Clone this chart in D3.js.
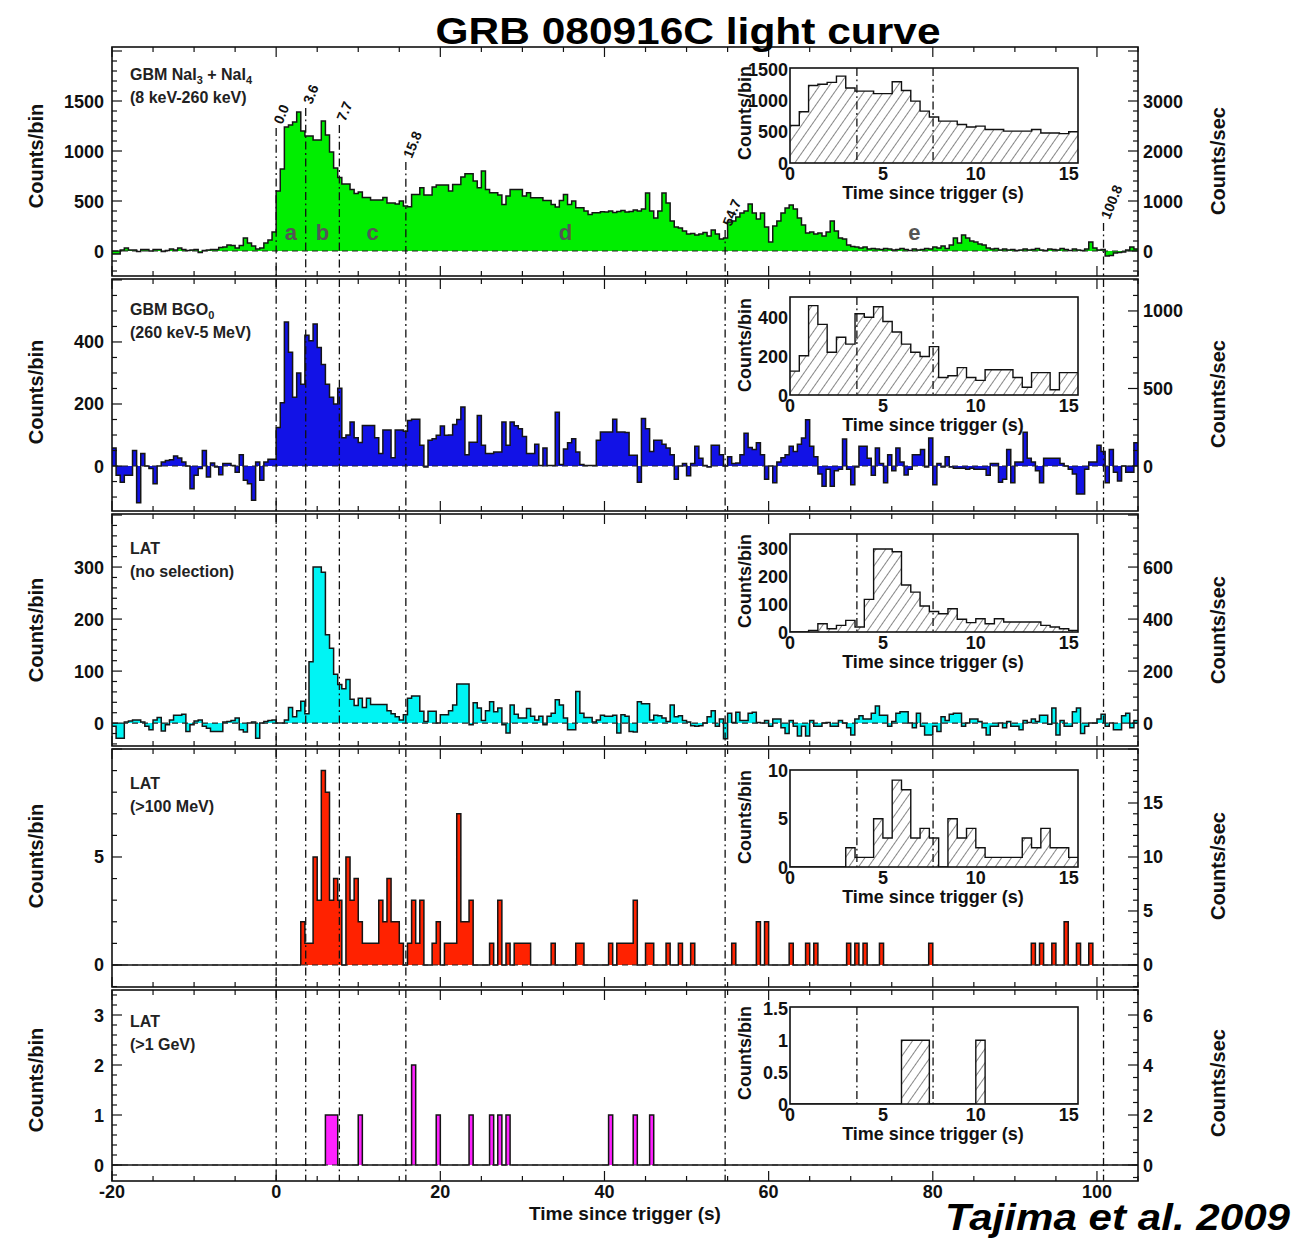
<!DOCTYPE html>
<html>
<head>
<meta charset="utf-8">
<script src="https://cdn.jsdelivr.net/npm/d3@7"></script>
<style>
  body { margin: 0; background: #fff; }
  text { font-family: "Liberation Sans", Arial, Helvetica, sans-serif; }
</style>
</head>
<body>
<svg id="chart" width="1316" height="1238"></svg>
<script>
// ---- data: 0.5 s bins starting at t = -20 s ----
const BIN = 0.5;
const T0 = -20;

// GBM NaI3 + NaI4 (8 keV - 260 keV), counts per bin
const naiCounts = [
  -30,-30,10,30,10,10,-5,15,15,0,
  15,15,-5,5,20,10,30,15,5,10,
  15,-15,5,10,15,15,35,40,60,55,
  30,55,130,80,50,20,30,80,110,190,
  600,820,1240,1260,1290,1390,1200,1150,1150,1110,
  1110,1300,1160,990,830,735,670,670,615,575,
  590,535,535,510,510,510,535,480,480,470,
  500,450,443,566,566,633,560,560,640,660,
  660,660,600,666,666,740,773,773,700,633,
  800,616,583,583,560,466,550,616,616,616,
  550,583,533,533,533,506,506,466,440,506,
  566,466,500,433,433,400,366,383,383,393,
  390,400,385,395,405,390,395,410,400,420,
  580,400,330,400,580,480,300,240,230,200,
  170,175,160,170,185,150,210,170,120,130,
  290,300,340,380,400,470,380,320,380,240,
  90,250,300,380,430,460,420,330,260,180,
  190,170,180,150,190,300,200,130,120,60,
  45,40,30,40,20,25,20,15,25,20,
  10,15,25,15,5,20,10,15,25,20,
  40,30,50,25,60,130,80,160,130,100,
  90,70,60,30,20,25,10,20,10,15,
  5,10,20,10,15,25,10,5,20,15,
  10,25,15,5,20,10,5,20,90,30,
  10,15,-50,-45,-20,-15,-10,10,40,20
];

// GBM BGO0 (260 keV - 5 MeV), counts per bin
const bgoCounts = [
  58,-30,-52,-30,-30,50,-118,40,0,-8,
  -57,0,13,18,20,32,26,13,0,-73,
  -30,-8,50,-35,10,-3,-28,8,8,2,
  -20,36,-46,-57,-110,13,-46,13,22,22,
  124,204,464,367,222,300,264,422,404,458,
  382,327,264,222,200,251,91,100,142,91,
  76,131,131,131,91,40,116,116,27,116,
  116,112,147,151,151,67,-3,83,88,99,
  129,99,100,134,150,190,36,77,77,163,
  67,40,40,45,45,142,67,142,130,120,
  95,40,40,70,2,58,2,2,173,5,
  55,75,88,45,5,2,2,2,83,110,
  110,110,151,110,110,108,35,35,-52,153,
  120,47,83,83,70,58,36,-43,0,8,
  -31,8,64,25,2,-3,67,67,36,0,
  30,8,10,36,106,60,53,75,36,-43,
  0,-54,13,27,36,64,47,70,90,149,
  64,30,-26,-65,-10,-65,-15,-10,87,-10,
  -60,-3,64,64,25,-30,58,8,-54,36,
  -15,58,13,-29,-10,36,36,53,-3,90,
  -60,8,-3,30,-3,-7,-7,-7,-10,-7,
  -10,-10,-10,-30,8,8,-52,-43,53,-54,
  13,13,109,25,13,-15,-54,25,25,25,
  25,8,0,-10,-26,-90,-90,-10,13,13,
  67,47,-54,53,-20,-48,0,-20,-20,75
];

// LAT, no event selection, counts per bin
const latAllCounts = [
  -6,-29,-29,2,4,6,6,2,-6,-13,
  6,11,-15,-3,6,15,15,17,-16,-3,
  4,6,-6,-10,-16,-16,-16,2,3,5,
  10,-13,-17,0,2,-29,0,3,5,6,
  0,0,6,30,12,24,42,18,118,300,
  300,290,170,144,94,74,66,84,46,34,
  48,30,48,36,36,36,36,24,18,12,
  6,16,48,52,52,23,3,23,23,0,
  16,16,24,35,75,75,75,-3,39,29,
  5,24,41,22,29,-3,-19,35,17,10,
  10,28,13,6,13,-3,13,19,45,35,
  10,-13,-13,61,19,11,11,2,6,15,
  13,13,15,-19,16,13,-16,-17,41,37,
  37,6,15,14,10,3,35,12,14,5,
  2,-5,-6,-5,0,12,24,-6,8,-30,
  19,1,21,5,5,19,21,1,0,5,
  -6,8,8,-9,-20,5,-6,-25,-6,-25,
  5,-6,-6,0,1,-6,-6,5,0,-9,
  -23,8,14,8,8,19,33,15,15,-6,
  3,19,22,22,0,-9,19,-6,-23,-23,
  -6,-16,12,5,17,19,19,-6,0,8,
  8,3,-9,-23,-6,-6,0,-9,3,-6,
  -6,-13,5,1,8,3,15,15,-2,29,
  -23,5,-6,-6,22,29,-20,-6,0,0,
  8,17,-6,0,-13,-13,14,19,-9,5
];

// LAT > 100 MeV: start time of each non-empty bin and its count
const lat100Start = [
  3,3.5,4,4.5,5,5.5,6,6.5,7,7.5,
  8.5,9,9.5,10,10.5,11,11.5,12,12.5,13,
  13.5,14,14.5,15,16,16.5,17,17.5,19,19.5,
  20.5,21,21.5,22,22.5,23,23.5,26,27,28,
  29,29.5,30,30.5,33.5,36.5,37,40.5,41.5,42,
  42.5,43,43.5,45,45.5,47.5,49,50.5,55.5,58.5,
  59.5,62.5,64.5,65.5,69.5,70.5,71.5,73.5,79.5,92,
  93,94.5,96,97.5,99
];
const lat100Counts = [
  2,1,1,5,3,9,8,3,4,3,
  5,3,4,2,1,1,1,1,3,2,
  4,2,2,1,1,3,1,3,1,2,
  1,1,1,7,2,2,3,1,3,1,
  1,1,1,1,1,1,1,1,1,1,
  1,1,3,1,1,1,1,1,1,2,
  2,1,1,1,1,1,1,1,1,1,
  1,1,2,1,1
];

// LAT > 1 GeV: start time of each non-empty bin and its count
const lat1GeVStart = [6,6.5,7,10,16.5,19.5,23.5,26,27,28,40.5,43.5,45.5];
const lat1GeVCounts = [1,1,1,1,2,1,1,1,1,1,1,1,1];

// interval boundaries (s) and their names
const markerTimes = [0.0, 3.6, 7.7, 15.8, 54.7, 100.8];
const markerLabels = ["0.0", "3.6", "7.7", "15.8", "54.7", "100.8"];
const intervalNames = ["a", "b", "c", "d", "e"];

// axis tick labels
const timeTicks = [-20, 0, 20, 40, 60, 80, 100];
const insetTimeTicks = [0, 5, 10, 15];
const countTicks = [[0,500,1000,1500],[0,200,400],[0,100,200,300],[0,5],[0,1,2,3]];
const rateTicks = [[0,1000,2000,3000],[0,500,1000],[0,200,400,600],[0,5,10,15],[0,2,4,6]];
const insetCountTicks = [[0,500,1000,1500],[0,200,400],[0,100,200,300],[0,5,10],[0,0.5,1,1.5]];

// panel captions: [text, isSubscript]
const panelCaptions = [
  [[["GBM NaI",0],["3",1],[" + NaI",0],["4",1]], [["(8 keV-260 keV)",0]]],
  [[["GBM BGO",0],["0",1]], [["(260 keV-5 MeV)",0]]],
  [[["LAT",0]], [["(no selection)",0]]],
  [[["LAT",0]], [["(>100 MeV)",0]]],
  [[["LAT",0]], [["(>1 GeV)",0]]]
];

// ---- helpers ----
function densify(starts, counts) {
  const n = naiCounts.length;
  const out = new Array(n).fill(0);
  starts.forEach((t, i) => { out[Math.round((t - T0) / BIN)] = counts[i]; });
  return out;
}

const svg = d3.select("#chart");
const defs = svg.append("defs");
const hatch = defs.append("pattern")
  .attr("id", "hatch").attr("patternUnits", "userSpaceOnUse")
  .attr("width", 8).attr("height", 8)
  .attr("patternTransform", "rotate(35)");
hatch.append("line").attr("x1", 0).attr("y1", 0).attr("x2", 0).attr("y2", 8)
  .attr("stroke", "#222").attr("stroke-width", 1.1);

const X0 = 112, X1 = 1138;
const x = d3.scaleLinear().domain([-20, 105]).range([X0, X1]);
const ix = d3.scaleLinear().domain([0, 15.5]).range([790, 1078]);

const panels = [
  { bins: naiCounts, color: "#00ee00", top: 47, bottom: 276, dom: [-250, 2040],
    lMaj: 500, lMin: 100, rMaj: 1000, rMin: 200, capY: 80, lc: 156, rc: 161,
    inset: { top: 68, bottom: 163, dom: [0, 1520], lc: 113 } },
  { bins: bgoCounts, color: "#1212e6", top: 279, bottom: 511, dom: [-145, 603],
    lMaj: 200, lMin: 50, rMaj: 500, rMin: 100, capY: 315, lc: 392, rc: 394,
    inset: { top: 297, bottom: 395, dom: [0, 509], lc: 345 } },
  { bins: latAllCounts, color: "#00f4f4", top: 514, bottom: 746, dom: [-44, 402],
    lMaj: 100, lMin: 20, rMaj: 200, rMin: 50, capY: 554, lc: 630, rc: 630,
    inset: { top: 534, bottom: 632, dom: [0, 354], lc: 581 } },
  { bins: densify(lat100Start, lat100Counts), color: "#ff2200", top: 749, bottom: 987, dom: [-1.02, 10],
    lMaj: 5, lMin: 1, rMaj: 5, rMin: 1, capY: 789, lc: 856, rc: 866,
    inset: { top: 770, bottom: 867, dom: [0, 10.05], lc: 817 } },
  { bins: densify(lat1GeVStart, lat1GeVCounts), color: "#ff22ff", top: 990, bottom: 1181, dom: [-0.32, 3.5],
    lMaj: 1, lMin: 0.2, rMaj: 2, rMin: 0.5, capY: 1027, lc: 1080, rc: 1083,
    inset: { top: 1007, bottom: 1104, dom: [0, 1.52], lc: 1053 } }
];

// where the labelled boundary lines begin in the top panel
const topMarkerStart = [128, 108, 125, 162, 230, 223];

function tickValues(dom, step) {
  return d3.range(Math.ceil(dom[0] / step - 1e-9), Math.floor(dom[1] / step + 1e-9) + 1).map(i => i * step);
}
function isMajor(v, major) {
  const r = v / major;
  return Math.abs(r - Math.round(r)) < 1e-6;
}

const dashDot = "8,3.5,1.8,3.5";

panels.forEach((p, k) => {
  const g = svg.append("g");
  const y = d3.scaleLinear().domain(p.dom).range([p.bottom, p.top]);
  const yr = d3.scaleLinear().domain(p.dom.map(v => v / BIN)).range([p.bottom, p.top]);

  defs.append("clipPath").attr("id", "clip" + k).append("rect")
    .attr("x", X0).attr("y", p.top).attr("width", X1 - X0).attr("height", p.bottom - p.top);

  const pts = p.bins.map((v, i) => ({ t: T0 + i * BIN, v }));
  pts.push({ t: T0 + p.bins.length * BIN, v: p.bins[p.bins.length - 1] });

  const area = d3.area().curve(d3.curveStepAfter).x(d => x(d.t)).y0(y(0)).y1(d => y(d.v));
  const line = d3.line().curve(d3.curveStepAfter).x(d => x(d.t)).y(d => y(d.v));

  const body = g.append("g").attr("clip-path", `url(#clip${k})`);
  body.append("path").attr("d", area(pts)).attr("fill", p.color);
  body.append("path").attr("d", line(pts)).attr("fill", "none")
    .attr("stroke", "#151515").attr("stroke-width", 1.5).attr("stroke-linejoin", "miter");

  // zero level
  body.append("line").attr("x1", X0).attr("x2", X1).attr("y1", y(0)).attr("y2", y(0))
    .attr("stroke", "#222").attr("stroke-width", 1.1).attr("stroke-dasharray", "6,4");

  // interval boundaries
  markerTimes.forEach((t, j) => {
    body.append("line")
      .attr("x1", x(t)).attr("x2", x(t))
      .attr("y1", k === 0 ? topMarkerStart[j] : p.top).attr("y2", p.bottom)
      .attr("stroke", "#111").attr("stroke-width", 1.3).attr("stroke-dasharray", dashDot);
  });

  if (k === 0) {
    markerTimes.forEach((t, j) => {
      const bx = x(t) + 6, by = topMarkerStart[j] - 3;
      g.append("text").attr("transform", `translate(${bx},${by}) rotate(-68)`)
        .attr("font-size", 14).attr("font-weight", "bold").attr("fill", "#111")
        .text(markerLabels[j]);
    });
    intervalNames.forEach((nm, j) => {
      const mid = (markerTimes[j] + markerTimes[j + 1]) / 2;
      g.append("text").attr("x", x(mid)).attr("y", 240).attr("text-anchor", "middle")
        .attr("font-size", 22).attr("font-weight", "bold").attr("fill", "#555").text(nm);
    });
  }

  // frame
  g.append("rect").attr("x", X0).attr("y", p.top).attr("width", X1 - X0).attr("height", p.bottom - p.top)
    .attr("fill", "none").attr("stroke", "#111").attr("stroke-width", 1.6);

  // ticks
  const tk = g.append("g").attr("stroke", "#111").attr("stroke-width", 1.2);
  tickValues(p.dom, p.lMin).forEach(v => {
    const len = isMajor(v, p.lMaj) ? 10 : 5;
    tk.append("line").attr("x1", X0).attr("x2", X0 + len).attr("y1", y(v)).attr("y2", y(v));
  });
  tickValues(yr.domain(), p.rMin).forEach(v => {
    const len = isMajor(v, p.rMaj) ? 10 : 5;
    tk.append("line").attr("x1", X1).attr("x2", X1 - len).attr("y1", yr(v)).attr("y2", yr(v));
  });
  tickValues(x.domain(), 5).forEach(v => {
    const len = isMajor(v, 20) ? 10 : 5;
    tk.append("line").attr("x1", x(v)).attr("x2", x(v)).attr("y1", p.bottom).attr("y2", p.bottom - len);
    tk.append("line").attr("x1", x(v)).attr("x2", x(v)).attr("y1", p.top).attr("y2", p.top + len);
  });

  // tick labels
  countTicks[k].forEach(v => {
    g.append("text").attr("x", X0 - 8).attr("y", y(v) + 6.5).attr("text-anchor", "end")
      .attr("font-size", 18).attr("font-weight", "bold").attr("fill", "#111").text(v);
  });
  rateTicks[k].forEach(v => {
    g.append("text").attr("x", X1 + 5).attr("y", yr(v) + 6.5).attr("text-anchor", "start")
      .attr("font-size", 18).attr("font-weight", "bold").attr("fill", "#111").text(v);
  });

  // axis titles
  g.append("text").attr("transform", `translate(43,${p.lc}) rotate(-90)`).attr("text-anchor", "middle")
    .attr("font-size", 20).attr("font-weight", "bold").attr("fill", "#111").text("Counts/bin");
  g.append("text").attr("transform", `translate(1225,${p.rc}) rotate(-90)`).attr("text-anchor", "middle")
    .attr("font-size", 20).attr("font-weight", "bold").attr("fill", "#111").text("Counts/sec");

  // caption
  panelCaptions[k].forEach((segs, li) => {
    const tx = g.append("text").attr("x", 130).attr("y", p.capY + li * 23)
      .attr("font-size", 16).attr("font-weight", "bold").attr("fill", "#222");
    let shifted = false;
    segs.forEach(([s, sub]) => {
      const ts = tx.append("tspan").text(s);
      if (sub && !shifted) { ts.attr("dy", 4).attr("font-size", 11); shifted = true; }
      else if (!sub && shifted) { ts.attr("dy", -4); shifted = false; }
      else if (sub) ts.attr("font-size", 11);
    });
  });

  // ---- inset: first 15.5 s ----
  const ins = p.inset;
  const iy = d3.scaleLinear().domain(ins.dom).range([ins.bottom, ins.top]);
  const ig = g.append("g");
  defs.append("clipPath").attr("id", "iclip" + k).append("rect")
    .attr("x", ix(0)).attr("y", ins.top).attr("width", ix(15.5) - ix(0)).attr("height", ins.bottom - ins.top);
  ig.append("rect").attr("x", ix(0)).attr("y", ins.top).attr("width", ix(15.5) - ix(0))
    .attr("height", ins.bottom - ins.top).attr("fill", "#fff");

  const ipts = pts.filter(d => d.t >= 0 && d.t < 15.5);
  ipts.push({ t: 15.5, v: ipts[ipts.length - 1].v });
  const iarea = d3.area().curve(d3.curveStepAfter).x(d => ix(d.t)).y0(iy(0)).y1(d => iy(Math.max(0, d.v)));
  const iline = d3.line().curve(d3.curveStepAfter).x(d => ix(d.t)).y(d => iy(Math.max(0, d.v)));
  const ib = ig.append("g").attr("clip-path", `url(#iclip${k})`);
  ib.append("path").attr("d", iarea(ipts)).attr("fill", "url(#hatch)");
  ib.append("path").attr("d", iline(ipts)).attr("fill", "none").attr("stroke", "#111").attr("stroke-width", 1.4);
  markerTimes.filter(t => t > 0 && t < 15.5).forEach(t => {
    ib.append("line").attr("x1", ix(t)).attr("x2", ix(t)).attr("y1", ins.top).attr("y2", ins.bottom)
      .attr("stroke", "#111").attr("stroke-width", 1.3).attr("stroke-dasharray", dashDot);
  });
  ig.append("rect").attr("x", ix(0)).attr("y", ins.top).attr("width", ix(15.5) - ix(0))
    .attr("height", ins.bottom - ins.top).attr("fill", "none").attr("stroke", "#111").attr("stroke-width", 1.6);

  insetCountTicks[k].forEach(v => {
    ig.append("text").attr("x", ix(0) - 2).attr("y", iy(v) + 6.5).attr("text-anchor", "end")
      .attr("font-size", 18).attr("font-weight", "bold").attr("fill", "#111").text(v);
  });
  insetTimeTicks.forEach(v => {
    ig.append("text").attr("x", ix(v)).attr("y", ins.bottom + 17).attr("text-anchor", "middle")
      .attr("font-size", 18).attr("font-weight", "bold").attr("fill", "#111").text(v);
  });
  ig.append("text").attr("x", 933).attr("y", ins.bottom + 36).attr("text-anchor", "middle")
    .attr("font-size", 18).attr("font-weight", "bold").attr("fill", "#111").text("Time since trigger (s)");
  ig.append("text").attr("transform", `translate(751,${ins.lc}) rotate(-90)`).attr("text-anchor", "middle")
    .attr("font-size", 18).attr("font-weight", "bold").attr("fill", "#111").text("Counts/bin");

  // time labels under the last panel
  if (k === panels.length - 1) {
    timeTicks.forEach(v => {
      g.append("text").attr("x", x(v)).attr("y", p.bottom + 17).attr("text-anchor", "middle")
        .attr("font-size", 18).attr("font-weight", "bold").attr("fill", "#111").text(v);
    });
    g.append("text").attr("x", 625).attr("y", 1220).attr("text-anchor", "middle")
      .attr("font-size", 19).attr("font-weight", "bold").attr("fill", "#111").text("Time since trigger (s)");
  }
});

// title and reference
svg.append("text").attr("x", 688).attr("y", 44).attr("text-anchor", "middle")
  .attr("font-size", 37).attr("font-weight", "bold").attr("fill", "#000")
  .attr("textLength", 505).attr("lengthAdjust", "spacingAndGlyphs").text("GRB 080916C light curve");
svg.append("text").attr("x", 945).attr("y", 1230)
  .attr("font-size", 36).attr("font-weight", "bold").attr("font-style", "italic").attr("fill", "#000")
  .attr("textLength", 345).attr("lengthAdjust", "spacingAndGlyphs").text("Tajima et al. 2009");
</script>
</body>
</html>
